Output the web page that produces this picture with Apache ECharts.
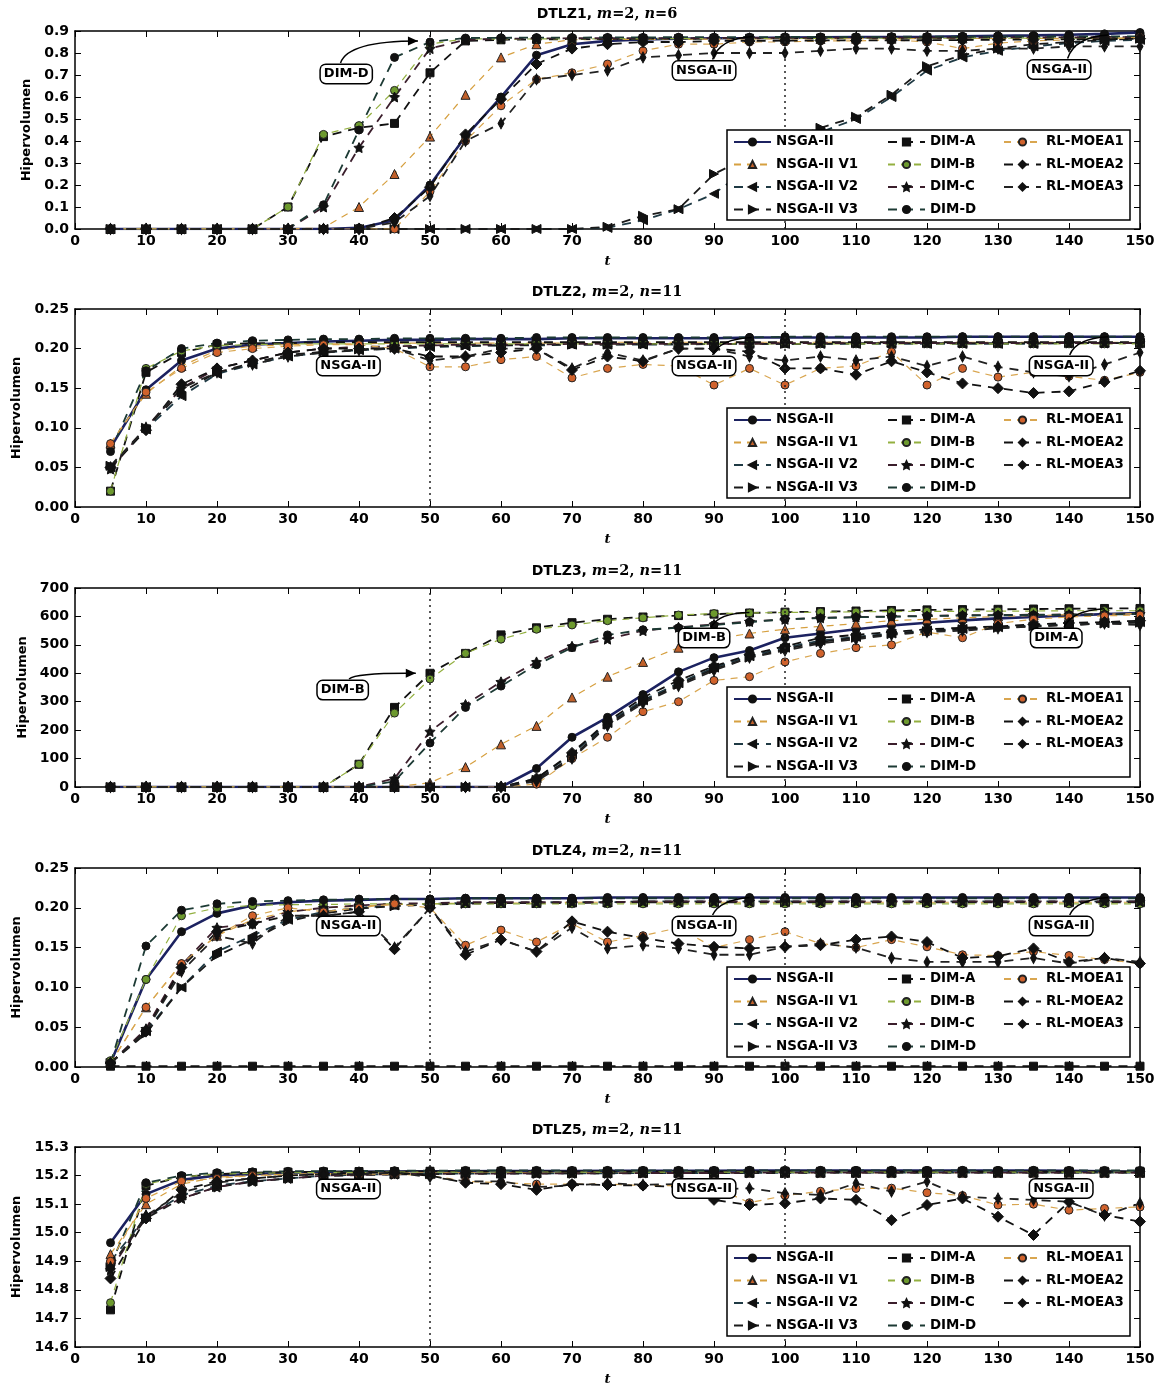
<!DOCTYPE html>
<html>
<head>
<meta charset="utf-8">
<title>Hipervolumen DTLZ</title>
<script src="https://cdn.jsdelivr.net/npm/echarts@6/dist/echarts.min.js"></script>
<style>
  html, body { margin: 0; padding: 0; background: #fff; }
  #main { width: 1173px; height: 1387px; }
</style>
</head>
<body>
<div id="main"></div>
<script>
// generations on the x axis
var steps = [5,10,15,20,25,30,35,40,45,50,55,60,65,70,75,80,85,90,95,100,105,110,115,120,125,130,135,140,145,150];

var names = ['NSGA-II','NSGA-II V1','NSGA-II V2','NSGA-II V3','DIM-A','DIM-B','DIM-C','DIM-D','RL-MOEA1','RL-MOEA2','RL-MOEA3'];

// ---- DTLZ1, m=2, n=6
var d1_nsga = [0,0,0,0,0,0,0,0.005,0.04,0.2,0.42,0.6,0.79,0.84,0.855,0.862,0.865,0.867,0.868,0.87,0.871,0.872,0.873,0.874,0.876,0.878,0.88,0.883,0.887,0.893];
var d1_v1   = [0,0,0,0,0,0,0.005,0.1,0.25,0.42,0.61,0.78,0.84,0.86,0.862,0.862,0.863,0.863,0.864,0.864,0.864,0.865,0.865,0.865,0.866,0.866,0.866,0.867,0.867,0.868];
var d1_v2   = [0,0,0,0,0,0,0,0,0,0,0,0,0,0,0.005,0.04,0.09,0.16,0.28,0.36,0.44,0.5,0.6,0.72,0.78,0.81,0.83,0.845,0.855,0.86];
var d1_v3   = [0,0,0,0,0,0,0,0,0,0,0,0,0,0,0.01,0.06,0.09,0.25,0.33,0.4,0.46,0.51,0.61,0.74,0.79,0.82,0.84,0.85,0.86,0.865];
var d1_dima = [0,0,0,0,0,0.1,0.42,0.46,0.48,0.71,0.855,0.86,0.862,0.863,0.864,0.865,0.866,0.866,0.867,0.867,0.868,0.868,0.869,0.869,0.87,0.87,0.871,0.871,0.872,0.872];
var d1_dimb = [0,0,0,0,0,0.1,0.43,0.47,0.63,0.84,0.865,0.863,0.864,0.864,0.865,0.865,0.865,0.866,0.866,0.866,0.866,0.867,0.867,0.867,0.867,0.868,0.868,0.868,0.868,0.868];
var d1_dimc = [0,0,0,0,0,0,0.1,0.37,0.6,0.82,0.86,0.865,0.866,0.867,0.867,0.868,0.868,0.868,0.869,0.869,0.869,0.87,0.87,0.87,0.87,0.871,0.871,0.871,0.872,0.872];
var d1_dimd = [0,0,0,0,0,0,0.11,0.45,0.78,0.85,0.868,0.869,0.87,0.87,0.871,0.871,0.872,0.872,0.872,0.873,0.873,0.873,0.874,0.874,0.874,0.875,0.875,0.875,0.876,0.876];
var d1_rl1  = [0,0,0,0,0,0,0,0,0,0.17,0.4,0.56,0.68,0.71,0.75,0.81,0.84,0.84,0.85,0.85,0.855,0.855,0.86,0.85,0.82,0.845,0.855,0.86,0.865,0.87];
var d1_rl2  = [0,0,0,0,0,0,0,0,0.05,0.19,0.43,0.59,0.75,0.82,0.84,0.85,0.85,0.855,0.855,0.856,0.857,0.857,0.858,0.858,0.859,0.86,0.861,0.862,0.863,0.865];
var d1_rl3  = [0,0,0,0,0,0,0,0,0.03,0.15,0.4,0.48,0.68,0.7,0.72,0.78,0.79,0.8,0.8,0.8,0.81,0.82,0.82,0.81,0.81,0.82,0.82,0.83,0.83,0.83];

// ---- DTLZ2, m=2, n=11
var d2_nsga = [0.075,0.148,0.185,0.2,0.205,0.207,0.209,0.21,0.211,0.211,0.212,0.212,0.212,0.213,0.213,0.213,0.213,0.213,0.214,0.214,0.214,0.214,0.214,0.214,0.215,0.215,0.215,0.215,0.215,0.215];
var d2_v1   = [0.08,0.143,0.178,0.198,0.203,0.205,0.206,0.206,0.207,0.207,0.207,0.207,0.207,0.207,0.208,0.208,0.208,0.208,0.208,0.208,0.208,0.208,0.208,0.208,0.208,0.208,0.208,0.208,0.208,0.208];
var d2_v2   = [0.05,0.098,0.14,0.168,0.18,0.19,0.195,0.198,0.2,0.202,0.203,0.204,0.204,0.205,0.205,0.205,0.205,0.206,0.206,0.206,0.206,0.206,0.206,0.206,0.206,0.206,0.206,0.207,0.207,0.207];
var d2_v3   = [0.052,0.1,0.145,0.17,0.182,0.192,0.196,0.199,0.201,0.203,0.204,0.204,0.205,0.205,0.205,0.206,0.206,0.206,0.206,0.206,0.206,0.207,0.207,0.207,0.207,0.207,0.207,0.207,0.207,0.207];
var d2_dima = [0.02,0.17,0.195,0.205,0.207,0.207,0.208,0.208,0.208,0.208,0.208,0.208,0.208,0.208,0.208,0.208,0.208,0.208,0.208,0.208,0.208,0.208,0.208,0.208,0.208,0.208,0.208,0.208,0.208,0.208];
var d2_dimb = [0.02,0.175,0.197,0.204,0.205,0.206,0.206,0.206,0.206,0.206,0.206,0.206,0.206,0.206,0.206,0.206,0.206,0.206,0.206,0.206,0.206,0.206,0.206,0.206,0.206,0.206,0.206,0.206,0.206,0.206];
var d2_dimc = [0.048,0.1,0.15,0.175,0.185,0.195,0.2,0.202,0.203,0.204,0.205,0.205,0.205,0.206,0.206,0.206,0.206,0.206,0.206,0.207,0.207,0.207,0.207,0.207,0.207,0.207,0.207,0.207,0.207,0.207];
var d2_dimd = [0.07,0.172,0.2,0.207,0.21,0.211,0.212,0.212,0.213,0.213,0.213,0.213,0.214,0.214,0.214,0.214,0.214,0.214,0.214,0.215,0.215,0.215,0.215,0.215,0.215,0.215,0.215,0.215,0.215,0.215];
var d2_rl1  = [0.08,0.145,0.175,0.195,0.2,0.203,0.205,0.205,0.2,0.177,0.177,0.186,0.19,0.163,0.175,0.18,0.178,0.154,0.175,0.154,0.175,0.178,0.196,0.154,0.175,0.164,0.17,0.165,0.16,0.17];
var d2_rl2  = [0.05,0.097,0.155,0.175,0.185,0.195,0.2,0.2,0.2,0.19,0.19,0.195,0.2,0.173,0.19,0.184,0.2,0.2,0.196,0.175,0.175,0.167,0.184,0.17,0.156,0.15,0.144,0.146,0.158,0.172];
var d2_rl3  = [0.05,0.1,0.15,0.17,0.18,0.19,0.195,0.198,0.2,0.185,0.19,0.2,0.2,0.175,0.195,0.185,0.2,0.2,0.19,0.185,0.19,0.185,0.19,0.178,0.19,0.177,0.17,0.165,0.18,0.195];

// ---- DTLZ3, m=2, n=11
var d3_nsga = [0,0,0,0,0,0,0,0,0,0,0,0,65,175,245,325,405,455,480,525,540,555,568,578,586,593,598,603,608,612];
var d3_v1   = [0,0,0,0,0,0,0,0,0,15,70,150,215,315,388,440,490,520,540,555,565,575,585,590,595,600,603,606,608,610];
var d3_v2   = [0,0,0,0,0,0,0,0,0,0,0,0,30,115,225,305,365,420,460,490,515,528,540,550,556,562,568,572,576,580];
var d3_v3   = [0,0,0,0,0,0,0,0,0,0,0,0,25,105,220,300,360,415,455,485,510,525,538,548,555,560,565,570,575,578];
var d3_dima = [0,0,0,0,0,0,0,80,280,400,470,535,560,578,590,598,603,608,612,615,617,619,621,623,624,625,626,627,628,628];
var d3_dimb = [0,0,0,0,0,0,0,80,260,380,470,520,555,570,585,595,605,610,612,614,615,616,617,618,618,619,619,620,620,620];
var d3_dimc = [0,0,0,0,0,0,0,0,30,195,290,370,440,495,520,550,562,572,582,590,595,598,600,602,604,605,606,607,608,609];
var d3_dimd = [0,0,0,0,0,0,0,0,20,155,280,355,430,490,535,553,560,570,580,590,594,597,599,601,603,604,605,606,607,608];
var d3_rl1  = [0,0,0,0,0,0,0,0,0,0,0,0,10,100,175,265,300,375,388,440,470,490,500,545,525,575,590,598,602,605];
var d3_rl2  = [0,0,0,0,0,0,0,0,0,0,0,0,30,120,230,315,375,425,465,495,525,535,545,555,560,565,572,577,580,585];
var d3_rl3  = [0,0,0,0,0,0,0,0,0,0,0,0,20,100,215,295,355,410,455,480,505,520,535,545,550,558,565,570,575,570];

// ---- DTLZ4, m=2, n=11
var d4_nsga = [0.005,0.11,0.17,0.193,0.203,0.207,0.209,0.21,0.211,0.211,0.212,0.212,0.212,0.212,0.213,0.213,0.213,0.213,0.213,0.213,0.213,0.213,0.213,0.213,0.213,0.213,0.213,0.213,0.213,0.213];
var d4_v1   = [0.005,0.075,0.13,0.165,0.185,0.195,0.2,0.202,0.204,0.205,0.206,0.206,0.206,0.207,0.207,0.207,0.207,0.207,0.207,0.207,0.207,0.207,0.207,0.207,0.207,0.207,0.207,0.207,0.207,0.207];
var d4_v2   = [0.005,0.045,0.1,0.145,0.165,0.185,0.195,0.2,0.203,0.205,0.206,0.206,0.207,0.207,0.207,0.208,0.208,0.208,0.208,0.208,0.208,0.208,0.208,0.208,0.208,0.208,0.208,0.208,0.208,0.208];
var d4_v3   = [0.005,0.042,0.1,0.14,0.16,0.183,0.193,0.199,0.202,0.204,0.205,0.206,0.206,0.206,0.207,0.207,0.207,0.207,0.207,0.207,0.207,0.207,0.207,0.207,0.207,0.207,0.207,0.207,0.207,0.207];
var d4_dima = [0.001,0.001,0.001,0.001,0.001,0.001,0.001,0.001,0.001,0.001,0.001,0.001,0.001,0.001,0.001,0.001,0.001,0.001,0.001,0.001,0.001,0.001,0.001,0.001,0.001,0.001,0.001,0.001,0.001,0.001];
var d4_dimb = [0.008,0.11,0.19,0.2,0.203,0.204,0.204,0.205,0.205,0.205,0.205,0.205,0.205,0.205,0.205,0.205,0.205,0.205,0.205,0.205,0.205,0.205,0.205,0.205,0.205,0.205,0.205,0.205,0.205,0.205];
var d4_dimc = [0.005,0.048,0.128,0.175,0.18,0.195,0.2,0.203,0.205,0.206,0.207,0.207,0.207,0.207,0.207,0.208,0.208,0.208,0.208,0.208,0.208,0.208,0.208,0.208,0.208,0.208,0.208,0.208,0.208,0.208];
var d4_dimd = [0.005,0.152,0.197,0.205,0.208,0.209,0.21,0.211,0.211,0.211,0.212,0.212,0.212,0.212,0.212,0.212,0.212,0.212,0.212,0.212,0.212,0.212,0.212,0.212,0.212,0.212,0.212,0.212,0.212,0.212];
var d4_rl1  = [0.005,0.075,0.13,0.165,0.19,0.2,0.195,0.2,0.205,0.2,0.153,0.172,0.157,0.18,0.157,0.165,0.175,0.15,0.16,0.17,0.155,0.15,0.16,0.151,0.141,0.14,0.145,0.14,0.135,0.13];
var d4_rl2  = [0.005,0.045,0.125,0.17,0.18,0.19,0.19,0.195,0.148,0.2,0.141,0.16,0.145,0.183,0.17,0.162,0.155,0.151,0.149,0.151,0.153,0.16,0.164,0.157,0.137,0.139,0.149,0.132,0.137,0.13];
var d4_rl3  = [0.005,0.045,0.12,0.165,0.155,0.19,0.19,0.195,0.15,0.2,0.145,0.16,0.145,0.175,0.149,0.153,0.149,0.141,0.141,0.151,0.155,0.15,0.137,0.132,0.132,0.132,0.137,0.13,0.137,0.132];

// ---- DTLZ5, m=2, n=11
var d5_nsga = [14.965,15.135,15.185,15.2,15.205,15.21,15.212,15.213,15.214,15.215,15.215,15.216,15.216,15.216,15.217,15.217,15.217,15.217,15.218,15.218,15.218,15.218,15.218,15.218,15.218,15.218,15.218,15.217,15.215,15.212];
var d5_v1   = [14.925,15.1,15.17,15.195,15.2,15.205,15.207,15.208,15.209,15.21,15.21,15.21,15.21,15.21,15.21,15.21,15.21,15.21,15.21,15.21,15.21,15.21,15.21,15.21,15.21,15.21,15.21,15.21,15.21,15.21];
var d5_v2   = [14.9,15.055,15.13,15.165,15.18,15.19,15.2,15.203,15.205,15.206,15.207,15.207,15.208,15.208,15.208,15.209,15.209,15.209,15.209,15.21,15.21,15.21,15.21,15.21,15.21,15.21,15.21,15.21,15.21,15.21];
var d5_v3   = [14.88,15.05,15.12,15.16,15.178,15.19,15.198,15.202,15.204,15.205,15.206,15.207,15.207,15.208,15.208,15.208,15.209,15.209,15.209,15.209,15.21,15.21,15.21,15.21,15.21,15.21,15.21,15.21,15.21,15.21];
var d5_dima = [14.73,15.165,15.195,15.205,15.21,15.212,15.213,15.214,15.214,15.215,15.215,15.215,15.215,15.215,15.215,15.215,15.215,15.215,15.215,15.215,15.215,15.215,15.215,15.215,15.215,15.215,15.215,15.215,15.215,15.215];
var d5_dimb = [14.755,15.17,15.195,15.205,15.208,15.21,15.211,15.211,15.212,15.212,15.212,15.212,15.212,15.212,15.212,15.212,15.212,15.212,15.212,15.212,15.212,15.212,15.212,15.212,15.212,15.212,15.212,15.212,15.212,15.212];
var d5_dimc = [14.87,15.06,15.12,15.16,15.18,15.19,15.2,15.203,15.205,15.206,15.207,15.207,15.208,15.208,15.208,15.209,15.209,15.209,15.21,15.21,15.21,15.21,15.21,15.21,15.21,15.21,15.21,15.21,15.21,15.21];
var d5_dimd = [14.885,15.175,15.2,15.21,15.213,15.215,15.216,15.216,15.217,15.217,15.218,15.218,15.218,15.218,15.218,15.218,15.218,15.218,15.218,15.218,15.218,15.218,15.218,15.218,15.218,15.218,15.218,15.218,15.218,15.218];
var d5_rl1  = [14.9,15.12,15.18,15.19,15.2,15.202,15.205,15.205,15.205,15.2,15.18,15.175,15.17,15.17,15.17,15.165,15.165,15.16,15.105,15.13,15.145,15.155,15.156,15.14,15.13,15.097,15.1,15.079,15.085,15.09];
var d5_rl2  = [14.84,15.05,15.15,15.18,15.19,15.2,15.205,15.21,15.21,15.2,15.175,15.17,15.15,15.17,15.167,15.165,15.16,15.115,15.097,15.103,15.12,15.115,15.044,15.097,15.12,15.056,14.992,15.108,15.062,15.039];
var d5_rl3  = [14.88,15.06,15.14,15.175,15.19,15.2,15.205,15.205,15.21,15.195,15.18,15.18,15.16,15.165,15.173,15.168,15.17,15.15,15.156,15.138,15.132,15.173,15.144,15.179,15.126,15.12,15.115,15.108,15.06,15.103];

var panels = [
  [d1_nsga, d1_v1, d1_v2, d1_v3, d1_dima, d1_dimb, d1_dimc, d1_dimd, d1_rl1, d1_rl2, d1_rl3],
  [d2_nsga, d2_v1, d2_v2, d2_v3, d2_dima, d2_dimb, d2_dimc, d2_dimd, d2_rl1, d2_rl2, d2_rl3],
  [d3_nsga, d3_v1, d3_v2, d3_v3, d3_dima, d3_dimb, d3_dimc, d3_dimd, d3_rl1, d3_rl2, d3_rl3],
  [d4_nsga, d4_v1, d4_v2, d4_v3, d4_dima, d4_dimb, d4_dimc, d4_dimd, d4_rl1, d4_rl2, d4_rl3],
  [d5_nsga, d5_v1, d5_v2, d5_v3, d5_dima, d5_dimb, d5_dimc, d5_dimd, d5_rl1, d5_rl2, d5_rl3]
];
var problems = ['DTLZ1', 'DTLZ2', 'DTLZ3', 'DTLZ4', 'DTLZ5'];
var nVars = ['6', '11', '11', '11', '11'];
var yMin = [0, 0, 0, 0, 14.6];
var yMax = [0.9, 0.25, 700, 0.25, 15.3];
var yStep = [0.1, 0.05, 100, 0.05, 0.1];
var yDec = [1, 2, 0, 2, 1];

// annotation boxes: panel, text, box [t,v], curve from, control, to, arrow head
var notes = [
  [0, 'DIM-D',   [38.2, 0.705], [37.4, 0.755], [38.4, 0.855], [48.3, 0.855], true],
  [0, 'NSGA-II', [88.6, 0.72],  [89.8, 0.77],  [90.8, 0.868], [95.5, 0.875], false],
  [0, 'NSGA-II', [138.6, 0.725],[139.8, 0.775],[140.8, 0.873],[145.5, 0.882], false],
  [1, 'NSGA-II', [38.5, 0.178], null, null, null, false],
  [1, 'NSGA-II', [88.6, 0.178], [89.8, 0.192], [90.8, 0.212], [95.3, 0.214], false],
  [1, 'NSGA-II', [138.9, 0.178],[140.1, 0.192],[141, 0.213],  [145.5, 0.215], false],
  [2, 'DIM-B',   [37.7, 341],   [38.6, 380],   [39.6, 402],   [48, 400], true],
  [2, 'DIM-B',   [88.6, 524],   [89.6, 562],   [90.6, 612],   [95, 614], false],
  [2, 'DIM-A',   [138.2, 524],  [139.3, 562],  [140.3, 620],  [145, 627], false],
  [3, 'NSGA-II', [38.5, 0.177], null, null, null, false],
  [3, 'NSGA-II', [88.6, 0.177], [89.8, 0.191], [90.8, 0.21],  [95, 0.213], false],
  [3, 'NSGA-II', [138.9, 0.177],[140.1, 0.191],[141, 0.21],   [145.5, 0.213], false],
  [4, 'NSGA-II', [38.5, 15.153], null, null, null, false],
  [4, 'NSGA-II', [88.6, 15.155], null, null, null, false],
  [4, 'NSGA-II', [138.9, 15.155], null, null, null, false]
];

var gridTop = [31, 309, 588, 868, 1147];
var gridH = [198, 198, 199, 199, 200];
var starPath = 'path://M0,-10L2.9,-4L9.5,-3.1L4.8,1.5L5.9,8.1L0,5L-5.9,8.1L-4.8,1.5L-9.5,-3.1L-2.9,-4Z';
var looks = [
  {line: '#1c2260', w: 2.6, dash: 'solid', sym: 'circle', size: 8, fill: '#111', edge: '#111'},
  {line: '#d6a040', w: 1.2, dash: [7, 6], sym: 'triangle', size: 9, fill: '#c0602a', edge: '#222'},
  {line: '#1f3a44', w: 1.8, dash: [9, 7], sym: 'triangle', size: 9, rot: 90, fill: '#111', edge: '#111'},
  {line: '#1a1a1a', w: 1.8, dash: [9, 7], sym: 'triangle', size: 9, rot: -90, fill: '#111', edge: '#111'},
  {line: '#111111', w: 1.8, dash: [9, 7], sym: 'rect', size: 8, fill: '#111', edge: '#111'},
  {line: '#93b040', w: 1.2, dash: [7, 6], sym: 'circle', size: 8, fill: '#6d9a2e', edge: '#222'},
  {line: '#3b1e2c', w: 1.8, dash: [9, 7], sym: starPath, size: 10, fill: '#111', edge: '#111'},
  {line: '#1c3a34', w: 1.8, dash: [9, 7], sym: 'circle', size: 8, fill: '#111', edge: '#111'},
  {line: '#d9a650', w: 1.2, dash: [7, 6], sym: 'circle', size: 8, fill: '#d0622c', edge: '#222'},
  {line: '#111111', w: 1.8, dash: [9, 7], sym: 'diamond', size: 11, fill: '#111', edge: '#111'},
  {line: '#222222', w: 1.8, dash: [9, 7], sym: 'diamond', size: [6, 11], fill: '#111', edge: '#111'}
];
var legendCols = [names.slice(0, 4), names.slice(4, 8), names.slice(8)];
var legendX = [733, 887, 1003];

var font = '"DejaVu Sans", Verdana, sans-serif';
var serif = '"DejaVu Serif", serif';
var frame = {show: true, onZero: false, lineStyle: {color: '#000', width: 1.5}};
var tick = {show: true, inside: true, length: 6, lineStyle: {color: '#000', width: 1}};

var chart = echarts.init(document.getElementById('main'));
var option = {
  backgroundColor: '#fff',
  animation: false,
  title: [], grid: [], xAxis: [], yAxis: [], legend: [], series: []
};

panels.forEach(function (rows, p) {
  option.title.push({
    text: '{a|' + problems[p] + ', }{i|m}{s|=2, }{i|n}{s|=' + nVars[p] + '}',
    left: 607, top: gridTop[p] - 24, textAlign: 'center', padding: 0,
    textStyle: {
      rich: {
        a: {fontFamily: font, fontWeight: 'bold', fontSize: 14, color: '#000'},
        i: {fontFamily: serif, fontStyle: 'italic', fontWeight: 'bold', fontSize: 14.5, color: '#000'},
        s: {fontFamily: serif, fontWeight: 'bold', fontSize: 14.5, color: '#000'}
      }
    }
  });
  option.grid.push({left: 75, width: 1065, top: gridTop[p], height: gridH[p], containLabel: false});

  option.xAxis.push({
    gridIndex: p, type: 'value', min: 0, max: 150, interval: 10,
    axisLine: frame, axisTick: tick, splitLine: {show: false},
    axisLabel: {color: '#000', fontFamily: font, fontWeight: 'bold', fontSize: 14, margin: 5},
    name: 't', nameLocation: 'middle', nameGap: 26,
    nameTextStyle: {fontFamily: serif, fontStyle: 'italic', fontWeight: 'bold', fontSize: 13, color: '#000'}
  });
  option.xAxis.push({
    gridIndex: p, type: 'value', position: 'top', min: 0, max: 150, interval: 10,
    axisLine: frame, axisTick: tick, axisLabel: {show: false}, splitLine: {show: false}
  });
  option.yAxis.push({
    gridIndex: p, type: 'value', min: yMin[p], max: yMax[p], interval: yStep[p],
    axisLine: frame, axisTick: tick, splitLine: {show: false},
    axisLabel: {
      color: '#000', fontFamily: font, fontWeight: 'bold', fontSize: 14, margin: 6,
      formatter: (function (d) { return function (v) { return v.toFixed(d); }; })(yDec[p])
    },
    name: 'Hipervolumen', nameLocation: 'middle', nameGap: 41,
    nameTextStyle: {fontFamily: font, fontWeight: 'bold', fontSize: 13, color: '#000'}
  });
  option.yAxis.push({
    gridIndex: p, type: 'value', position: 'right', min: yMin[p], max: yMax[p], interval: yStep[p],
    axisLine: frame, axisTick: tick, axisLabel: {show: false}, splitLine: {show: false}
  });

  legendCols.forEach(function (col, c) {
    option.legend.push({
      orient: 'vertical', left: legendX[c], top: gridTop[p] + 104,
      itemWidth: 37, itemHeight: 9, itemGap: 8.5, padding: 0, z: 11,
      selectedMode: false, data: col,
      textStyle: {color: '#000', fontFamily: font, fontWeight: 'bold', fontSize: 13.4, lineHeight: 14}
    });
  });

  rows.forEach(function (vals, i) {
    var lk = looks[i];
    var s = {
      type: 'line', name: names[i],
      xAxisIndex: 2 * p, yAxisIndex: 2 * p,
      data: steps.map(function (t, k) { return [t, vals[k]]; }),
      symbol: lk.sym, symbolSize: lk.size, symbolRotate: lk.rot || 0,
      showSymbol: true,
      lineStyle: {color: lk.line, width: lk.w, type: lk.dash},
      itemStyle: {color: lk.fill, borderColor: lk.edge, borderWidth: 1},
      emphasis: {disabled: true}
    };
    if (i === 0) {
      s.markLine = {
        silent: true, symbol: ['none', 'none'], label: {show: false},
        lineStyle: {type: [2, 4], color: '#222', width: 1.5},
        data: [{xAxis: 50}, {xAxis: 100}]
      };
    }
    option.series.push(s);
  });
});

chart.setOption(option);

// legend frames and annotation boxes, placed through the axes
var graphics = [];
gridTop.forEach(function (top) {
  graphics.push({
    type: 'rect', z: 10,
    shape: {x: 727, y: top + 99, width: 403, height: 90},
    style: {fill: '#fff', stroke: '#000', lineWidth: 1.5}
  });
});
notes.forEach(function (n) {
  var finder = {gridIndex: n[0]};
  var b = chart.convertToPixel(finder, n[2]);
  if (n[3]) {
    var a = chart.convertToPixel(finder, n[3]);
    var c = chart.convertToPixel(finder, n[4]);
    var e = chart.convertToPixel(finder, n[5]);
    graphics.push({
      type: 'bezierCurve', z: 12,
      shape: {x1: a[0], y1: a[1], cpx1: c[0], cpy1: c[1], x2: e[0], y2: e[1]},
      style: {stroke: '#000', lineWidth: 1.5, fill: 'none'}
    });
    if (n[6]) {
      var ang = Math.atan2(e[1] - c[1], e[0] - c[0]);
      var L = 10, W = 4.5;
      var bx = e[0] - L * Math.cos(ang), by = e[1] - L * Math.sin(ang);
      graphics.push({
        type: 'polygon', z: 12,
        shape: {points: [
          [e[0], e[1]],
          [bx + W * Math.sin(ang), by - W * Math.cos(ang)],
          [bx - W * Math.sin(ang), by + W * Math.cos(ang)]
        ]},
        style: {fill: '#000'}
      });
    }
  }
  graphics.push({
    type: 'text', z: 13, x: b[0], y: b[1],
    style: {
      text: n[1], align: 'center', verticalAlign: 'middle',
      font: 'bold 13px ' + font, fill: '#000',
      backgroundColor: '#fff', borderColor: '#000', borderWidth: 1.5, borderRadius: 5,
      padding: [3, 3, 2, 3]
    }
  });
});
chart.setOption({graphic: graphics});
</script>
</body>
</html>
